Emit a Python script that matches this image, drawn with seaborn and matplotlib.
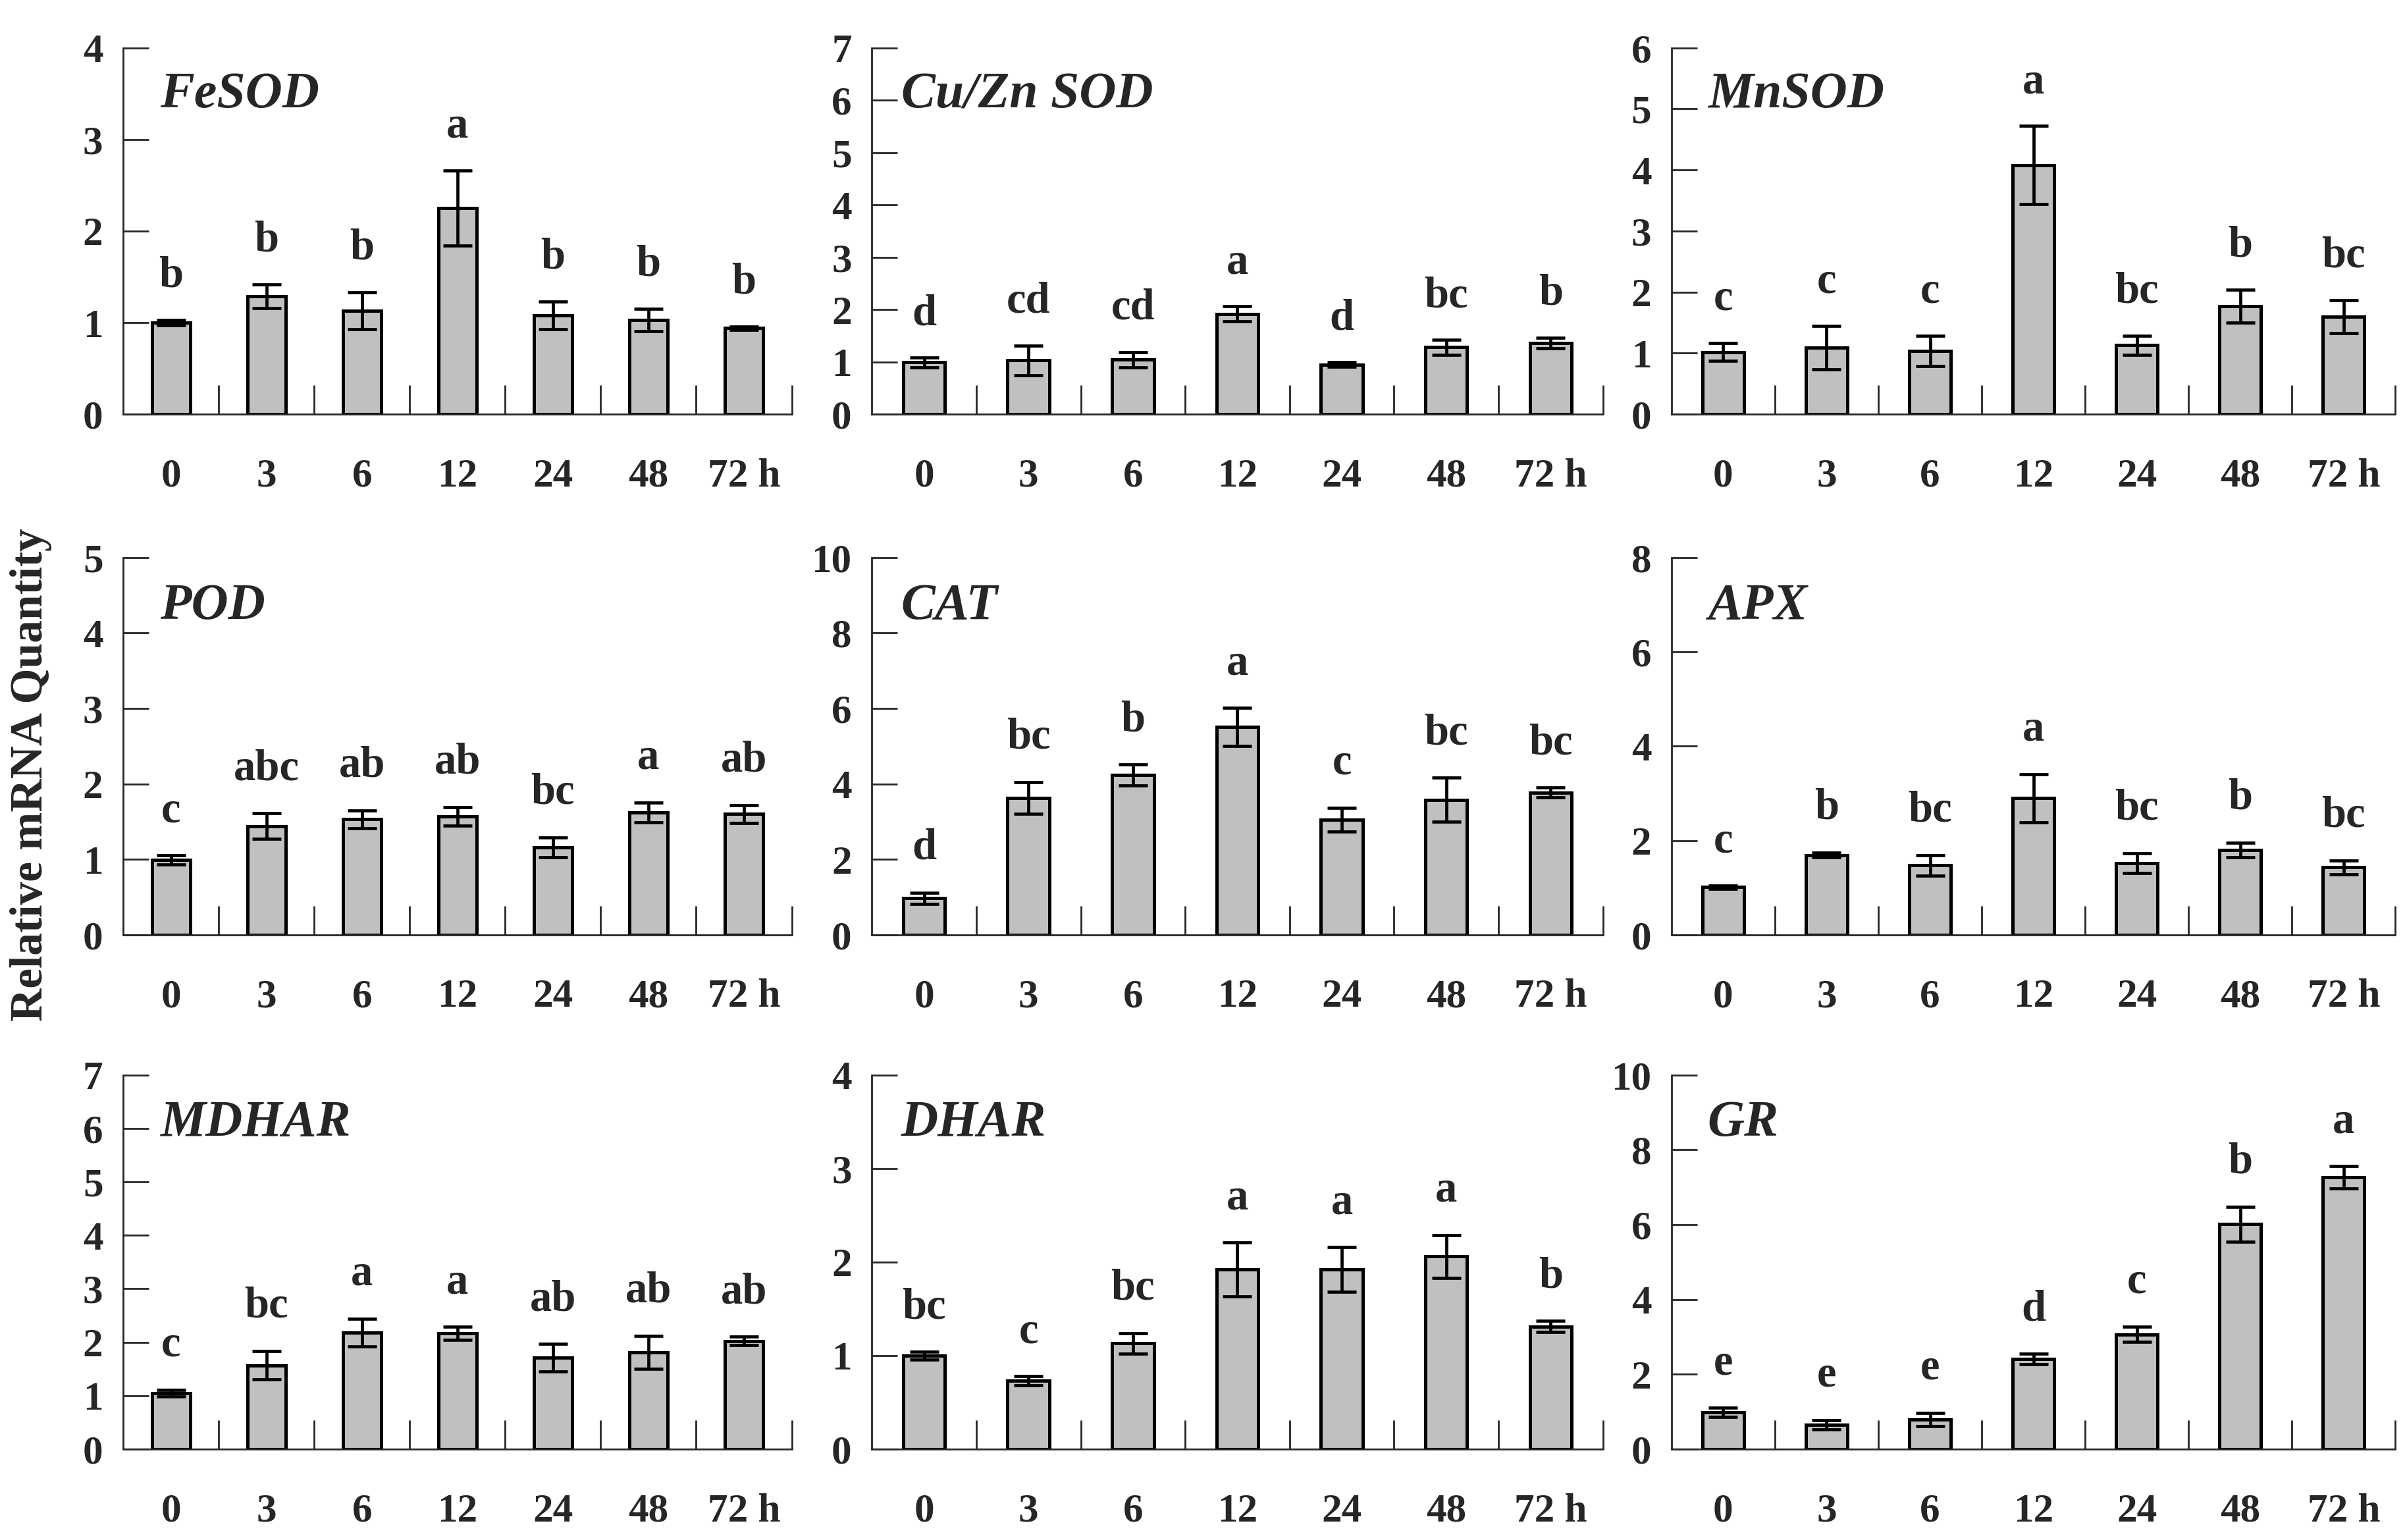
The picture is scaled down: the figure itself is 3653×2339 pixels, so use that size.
import numpy as np
import matplotlib
matplotlib.use("Agg")
import matplotlib.pyplot as plt
import seaborn as sns

sns.set_style("ticks")
plt.rcParams['font.family'] = ['Liberation Serif', 'DejaVu Serif']
plt.rcParams['font.weight'] = 'bold'

times = ["0", "3", "6", "12", "24", "48", "72 h"]

genes = ["FeSOD", "Cu/Zn SOD", "MnSOD", "POD", "CAT", "APX", "MDHAR", "DHAR", "GR"]

fesod = [1.00, 1.29, 1.13, 2.25, 1.08, 1.03, 0.94]
fesod_err = [0.03, 0.13, 0.20, 0.41, 0.15, 0.12, 0.02]
fesod_let = ["b", "b", "b", "a", "b", "b", "b"]

cuznsod = [0.99, 1.03, 1.04, 1.92, 0.95, 1.28, 1.36]
cuznsod_err = [0.09, 0.28, 0.15, 0.14, 0.04, 0.14, 0.10]
cuznsod_let = ["d", "cd", "cd", "a", "d", "bc", "b"]

mnsod = [1.02, 1.09, 1.04, 4.08, 1.13, 1.77, 1.60]
mnsod_err = [0.15, 0.36, 0.25, 0.64, 0.16, 0.27, 0.27]
mnsod_let = ["c", "c", "c", "a", "bc", "b", "bc"]

pod = [0.99, 1.44, 1.53, 1.57, 1.16, 1.62, 1.60]
pod_err = [0.06, 0.17, 0.12, 0.12, 0.13, 0.13, 0.12]
pod_let = ["c", "abc", "ab", "ab", "bc", "a", "ab"]

cat = [0.97, 3.63, 4.23, 5.51, 3.05, 3.58, 3.77]
cat_err = [0.15, 0.42, 0.28, 0.50, 0.32, 0.58, 0.13]
cat_let = ["d", "bc", "b", "a", "c", "bc", "bc"]

apx = [1.01, 1.69, 1.47, 2.90, 1.52, 1.80, 1.43]
apx_err = [0.03, 0.05, 0.22, 0.51, 0.21, 0.15, 0.15]
apx_let = ["c", "b", "bc", "a", "bc", "b", "bc"]

mdhar = [1.05, 1.57, 2.18, 2.17, 1.71, 1.81, 2.02]
mdhar_err = [0.06, 0.27, 0.26, 0.12, 0.26, 0.31, 0.08]
mdhar_let = ["c", "bc", "a", "a", "ab", "ab", "ab"]

dhar = [1.00, 0.73, 1.13, 1.92, 1.92, 2.06, 1.31]
dhar_err = [0.04, 0.05, 0.11, 0.29, 0.24, 0.23, 0.06]
dhar_let = ["bc", "c", "bc", "a", "a", "a", "b"]

gr = [0.98, 0.65, 0.79, 2.41, 3.07, 6.01, 7.26]
gr_err = [0.12, 0.13, 0.18, 0.14, 0.21, 0.47, 0.30]
gr_let = ["e", "e", "e", "d", "c", "b", "a"]

means = [fesod, cuznsod, mnsod, pod, cat, apx, mdhar, dhar, gr]
errs = [fesod_err, cuznsod_err, mnsod_err, pod_err, cat_err, apx_err, mdhar_err, dhar_err, gr_err]
letters = [fesod_let, cuznsod_let, mnsod_let, pod_let, cat_let, apx_let, mdhar_let, dhar_let, gr_let]
ymax = [4, 7, 6, 5, 10, 8, 7, 4, 10]
ystep = [1, 1, 1, 1, 2, 2, 1, 1, 2]

fig = plt.figure(figsize=(18.265, 11.695), dpi=200)

# panel rectangles (figure fractions)
lefts = [0.0512, 0.3625, 0.695]
widths = [0.278, 0.304, 0.301]
bottoms = [0.731, 0.393, 0.059]
heights = [0.238, 0.245, 0.243]
name_x = [0.055, 0.04, 0.05]

for i, gene in enumerate(genes):
    r, c = i // 3, i % 3
    ax = fig.add_axes([lefts[c], bottoms[r], widths[c], heights[r]])
    sns.barplot(x=times, y=means[i], color="#c0c0c0", saturation=1, edgecolor="black",
                linewidth=1.8, width=0.4, errorbar=None, ax=ax)
    ax.errorbar(np.arange(len(times)), means[i], yerr=errs[i], fmt="none", ecolor="black",
                elinewidth=1.7, capsize=8, capthick=1.7)
    gap = 0.065 * ymax[i]
    for j, lab in enumerate(letters[i]):
        ax.text(j, means[i][j] + errs[i][j] + gap, lab, ha="center", va="bottom",
                fontsize=24, fontweight="bold")
    ax.text(name_x[c], 0.87, gene, transform=ax.transAxes, fontsize=28, fontweight="bold",
            fontstyle="italic", va="center", ha="left")
    ax.set_xlim(-0.5, len(times) - 0.5)
    ax.set_ylim(0, ymax[i])
    ax.set_yticks(np.arange(0, ymax[i] + 0.1, ystep[i]))
    ax.set_xticks(np.arange(len(times)))
    ax.set_xticklabels(times)
    ax.set_xticks(np.arange(len(times)) + 0.5, minor=True)
    ax.tick_params(axis="x", which="major", length=0, pad=24, labelsize=22)
    ax.tick_params(axis="x", which="minor", direction="in", length=16, width=1)
    ax.tick_params(axis="y", direction="in", length=14, width=1, pad=11, labelsize=22)
    for lbl in ax.get_xticklabels() + ax.get_yticklabels():
        lbl.set_fontweight("bold")
    sns.despine(ax=ax)
    ax.spines["left"].set_linewidth(1)
    ax.spines["bottom"].set_linewidth(1)
    ax.set_xlabel("")
    ax.set_ylabel("")

fig.text(0.013, 0.497, "Relative mRNA Quantity", rotation=90, ha="center", va="center",
         fontsize=25, fontweight="bold")

fig.savefig("out.png", dpi=200, facecolor="white")
